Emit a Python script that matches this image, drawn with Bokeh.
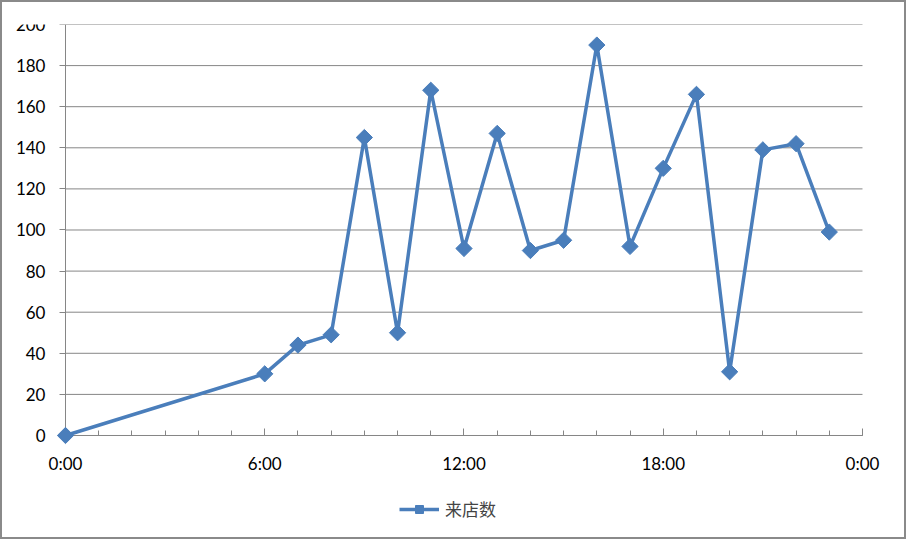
import math
from bokeh.plotting import figure
from bokeh.models import FixedTicker, Legend, LegendItem, Range1d
from bokeh.embed import file_html
from bokeh.resources import INLINE

hours = [0, 6, 7, 8, 9, 10, 11, 12, 13, 14, 15, 16, 17, 18, 19, 20, 21, 22, 23]
visits = [0, 30, 44, 49, 145, 50, 168, 91, 147, 90, 95, 190, 92, 130, 166, 31, 139, 142, 99]
series_name = "来店数"
x_ticks = [0, 6, 12, 18, 24]
x_tick_labels = ["0:00", "6:00", "12:00", "18:00", "0:00"]
y_ticks = list(range(0, 201, 20))

BLUE = "#4a7ebb"
GRAY = "#868686"
FONT = "Lato"

# frame is larger than the data area so that axis labels and legend are not clipped;
# axes are pinned at x=0 / y=0
p = figure(frame_width=878, frame_height=501, output_backend="svg", toolbar_location=None,
           x_range=Range1d(-1.716, 24.723), y_range=Range1d(-43.8, 200),
           min_border_left=6, min_border_right=18, min_border_top=22, min_border_bottom=12)
p.styles = {"border": "2px solid #8a8a8a"}
p.outline_line_color = None
p.background_fill_color = "white"
p.border_fill_color = "white"

# horizontal gridlines across the data area only
p.xgrid.grid_line_color = None
p.ygrid.grid_line_color = None
p.segment(x0=[x_ticks[0]] * len(y_ticks), y0=y_ticks,
          x1=[x_ticks[-1]] * len(y_ticks), y1=y_ticks,
          line_color=GRAY, line_width=1, level="underlay")

line_r = p.line(hours, visits, line_color=BLUE, line_width=3.5, level="overlay")
mark_r = p.scatter(hours, visits, marker="square", angle=math.pi / 4, size=11.5,
                   fill_color=BLUE, line_color=BLUE, line_width=1, level="overlay")

# x axis
xa = p.xaxis[0]
xa.fixed_location = 0
xa.bounds = (x_ticks[0], x_ticks[-1])
xa.ticker = FixedTicker(ticks=x_ticks, minor_ticks=list(range(0, 25)))
xa.major_label_overrides = {t: l for t, l in zip(x_ticks, x_tick_labels)}
xa.axis_line_color = GRAY
xa.major_tick_line_color = GRAY
xa.minor_tick_line_color = GRAY
xa.major_tick_in = 7
xa.major_tick_out = 0
xa.minor_tick_in = 5
xa.minor_tick_out = 0
xa.major_label_standoff = 18
xa.major_label_text_font = FONT
xa.major_label_text_font_size = "17px"
xa.major_label_text_color = "#000000"

# y axis
ya = p.yaxis[0]
ya.fixed_location = 0
ya.ticker = FixedTicker(ticks=y_ticks)
ya.bounds = (y_ticks[0], y_ticks[-1])
ya.axis_line_color = GRAY
ya.major_tick_line_color = GRAY
ya.minor_tick_line_color = None
ya.major_tick_in = 0
ya.major_tick_out = 6
ya.major_label_standoff = 14
ya.major_label_text_font = FONT
ya.major_label_text_font_size = "17px"
ya.major_label_text_color = "#000000"

legend = Legend(items=[LegendItem(label=series_name, renderers=[line_r, mark_r])],
                location=(391, 4), orientation="horizontal",
                label_text_font="Noto Sans CJK SC", label_text_font_size="17px",
                glyph_width=40, glyph_height=20, border_line_color=None,
                background_fill_alpha=0, margin=0, padding=4, label_standoff=6)
p.add_layout(legend, "center")

open("out.html", "w").write(file_html(p, INLINE))
